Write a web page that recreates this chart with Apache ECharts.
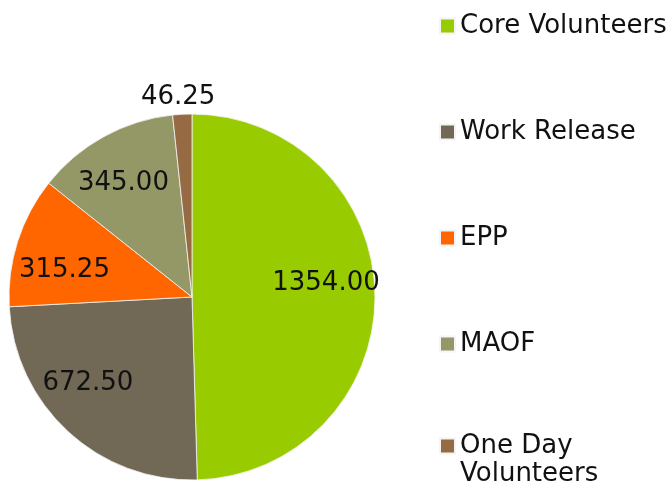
<!DOCTYPE html>
<html><head><meta charset="utf-8">
<script src="https://cdn.jsdelivr.net/npm/echarts@6/dist/echarts.min.js"></script>
<style>html,body{margin:0;padding:0;background:#fff}#c{width:672px;height:489px}</style>
</head><body><div id="c"></div>
<script>
const categories = ['Core Volunteers', 'Work Release', 'EPP', 'MAOF', 'One Day Volunteers'];
const values = [1354.00, 672.50, 315.25, 345.00, 46.25];
const colors = ['#99CC00', '#716856', '#FF6600', '#949866', '#966B43'];
const outsideLabel = [false, false, false, false, true];

const FONT = 'DejaVu Sans';
const labelOffsets = [[-2, -12], [-12, -14], [2, 15], [-3, 5], [-3, 4]];
const data = categories.map((n, i) => ({ name: n, value: values[i], itemStyle: { color: colors[i] } }));
const chart = echarts.init(document.getElementById('c'), null, { renderer: 'canvas' });
const labelBase = { position: 'inside', fontFamily: FONT, fontSize: 26, color: '#111',
  formatter: p => p.value.toFixed(2) };
const legendBase = {
  orient: 'vertical',
  left: 439,
  padding: 0,
  itemWidth: 15,
  itemHeight: 15,
  itemGap: 80,
  icon: 'rect',
  selectedMode: false,
  textStyle: { fontFamily: FONT, fontSize: 26, color: '#111' }
};
chart.setOption({
  animation: false,
  backgroundColor: '#fff',
  legend: [
    Object.assign({}, legendBase, {
      top: 13,
      data: categories.slice(0, 4)
    }),
    Object.assign({}, legendBase, {
      top: 404,
      formatter: n => '\nOne Day\nVolunteers',
      textStyle: { fontFamily: FONT, fontSize: 26, color: '#111', lineHeight: 28 },
      data: [categories[4]]
    })
  ],
  series: [
    {
      type: 'pie',
      center: [192, 297],
      radius: [0, 183],
      startAngle: 90,
      clockwise: true,
      label: { show: false },
      labelLine: { show: false },
      itemStyle: { borderColor: '#f4f4f4', borderWidth: 0.8 },
      emphasis: { disabled: true },
      data: data
    },
    {
      type: 'pie',
      center: [192, 297],
      radius: [83, 183],
      startAngle: 90,
      clockwise: true,
      silent: true,
      itemStyle: { color: 'rgba(0,0,0,0)' },
      label: labelBase,
      labelLine: { show: false },
      data: categories.map((n, i) => ({ name: n, value: values[i],
        label: { show: !outsideLabel[i], offset: labelOffsets[i] } }))
    },
    {
      type: 'pie',
      center: [192, 297],
      radius: [184, 218],
      startAngle: 90,
      clockwise: true,
      silent: true,
      itemStyle: { color: 'rgba(0,0,0,0)' },
      label: labelBase,
      labelLine: { show: false },
      data: categories.map((n, i) => ({ name: n, value: values[i],
        label: { show: outsideLabel[i], offset: labelOffsets[i] } }))
    }
  ]
});
</script></body></html>
